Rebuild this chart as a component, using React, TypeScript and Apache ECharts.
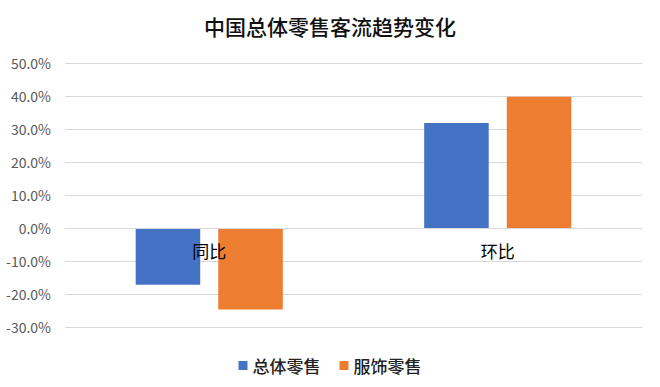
import React, { useEffect, useRef } from "react";
import * as echarts from "echarts";

const categories = ["同比", "环比"];
const seriesNames = ["总体零售", "服饰零售"];
const totalRetail = [-17.2, 31.8];
const apparelRetail = [-24.7, 39.8];
const colors = ["#4472C4", "#ED7D31"];
const yTicks = { min: -30, max: 50, interval: 10 };

export default function App() {
  const ref = useRef<HTMLDivElement>(null);
  useEffect(() => {
    if (!ref.current) return;
    const chart = echarts.init(ref.current, null, { renderer: "svg" });
    const font = "'Noto Sans CJK SC', 'Noto Sans', sans-serif";
    const gridTop = 63;
    const gridBottom = 60;
    const plotH = 387 - gridTop - gridBottom;
    const zeroOffset = -(plotH * (0 - yTicks.min)) / (yTicks.max - yTicks.min);
    chart.setOption({
      animation: false,
      color: colors,
      title: {
        text: "中国总体零售客流趋势变化",
        left: "center",
        top: 10,
        textStyle: { fontSize: 21, fontWeight: 500, color: "#111", fontFamily: font },
      },
      grid: { left: 65, right: 18, top: gridTop, bottom: gridBottom, containLabel: false },
      legend: {
        top: 352,
        left: "center",
        icon: "rect",
        itemWidth: 9,
        itemHeight: 9,
        itemGap: 19,
        data: seriesNames,
        textStyle: { fontSize: 17, fontWeight: 500, color: "#222", fontFamily: font },
      },
      xAxis: {
        type: "category",
        data: categories,
        z: 10,
        offset: zeroOffset,
        axisLine: { show: true, onZero: false, lineStyle: { color: "#d9d9d9", width: 1 } },
        axisTick: { show: false },
        axisLabel: { margin: 14, fontSize: 17, color: "#000", fontFamily: font },
      },
      yAxis: {
        type: "value",
        min: yTicks.min,
        max: yTicks.max,
        interval: yTicks.interval,
        axisLine: { show: false },
        axisTick: { show: false },
        splitLine: { lineStyle: { color: "#d9d9d9", width: 1 } },
        axisLabel: {
          margin: 14,
          fontSize: 14,
          color: "#595959",
          fontFamily: font,
          formatter: (v: number) => v.toFixed(1) + "%",
        },
      },
      series: [
        { name: seriesNames[0], type: "bar", data: totalRetail, barGap: "28%", barCategoryGap: "49%" },
        { name: seriesNames[1], type: "bar", data: apparelRetail, barGap: "28%", barCategoryGap: "49%" },
      ],
    });
    return () => chart.dispose();
  }, []);
  return <div ref={ref} style={{ width: 660, height: 387, position: "absolute", left: 0, top: 0 }} />;
}
